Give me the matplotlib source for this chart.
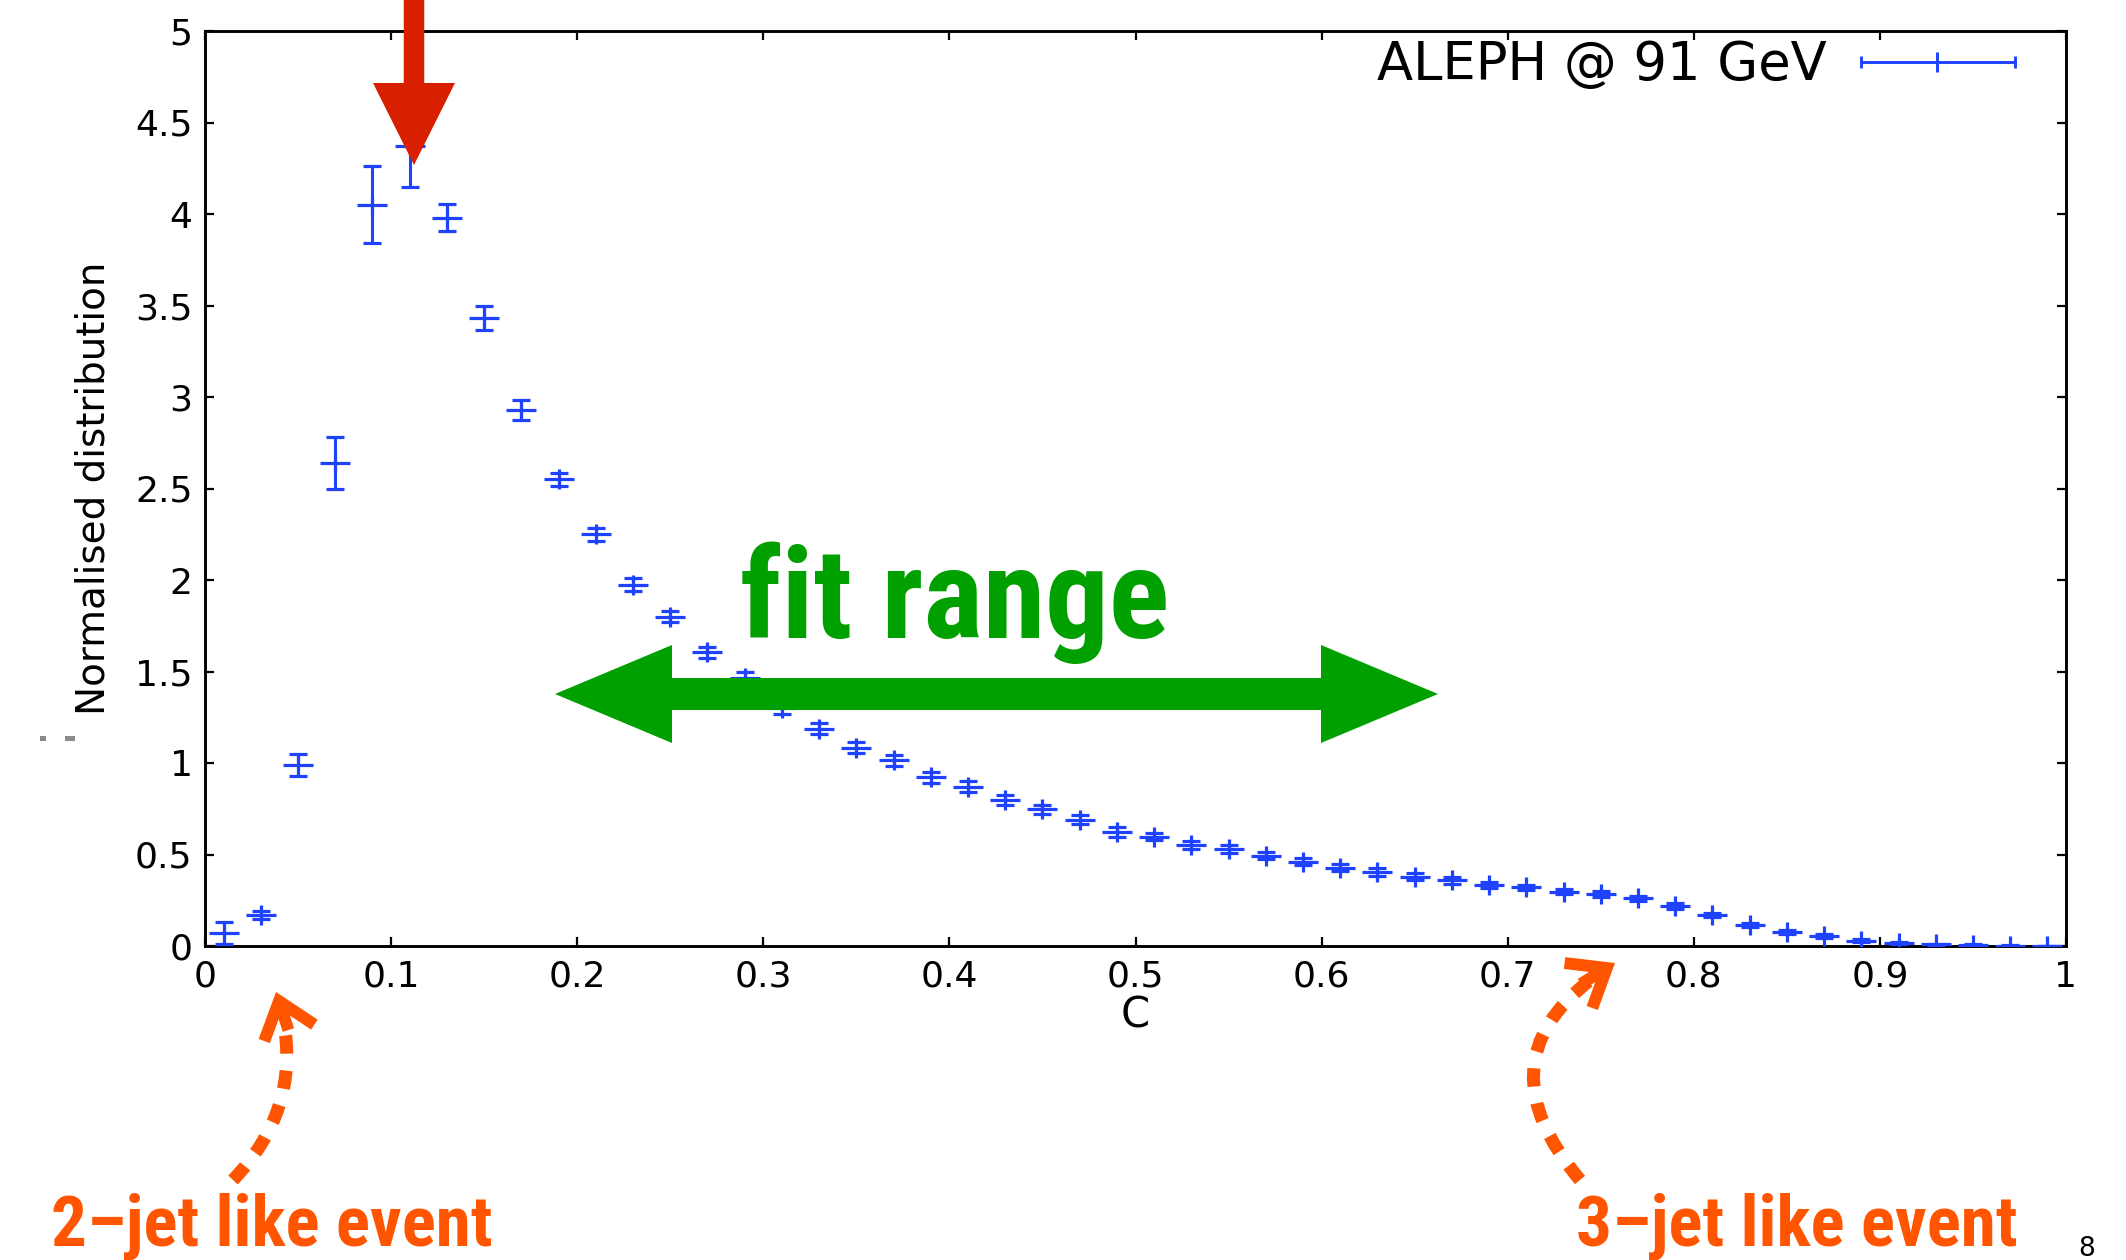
import numpy as np
import matplotlib
matplotlib.use("Agg")
import matplotlib.pyplot as plt
from matplotlib.path import Path
from matplotlib.patches import FancyArrow, FancyArrowPatch, Rectangle
from matplotlib.lines import Line2D

# ---------------- data ----------------
c_centres = [0.01, 0.03, 0.05, 0.07, 0.09, 0.11, 0.13, 0.15, 0.17, 0.19,
             0.21, 0.23, 0.25, 0.27, 0.29, 0.31, 0.33, 0.35, 0.37, 0.39,
             0.41, 0.43, 0.45, 0.47, 0.49, 0.51, 0.53, 0.55, 0.57, 0.59,
             0.61, 0.63, 0.65, 0.67, 0.69, 0.71, 0.73, 0.75, 0.77, 0.79,
             0.81, 0.83, 0.85, 0.87, 0.89, 0.91, 0.93, 0.95, 0.97, 0.99]
distribution = [0.07, 0.17, 0.99, 2.64, 4.05, 4.37, 3.98, 3.43, 2.93, 2.55,
                2.25, 1.975, 1.80, 1.605, 1.465, 1.30, 1.186, 1.084, 1.016, 0.923,
                0.869, 0.798, 0.748, 0.689, 0.623, 0.597, 0.552, 0.530, 0.494, 0.461,
                0.428, 0.404, 0.379, 0.358, 0.333, 0.321, 0.297, 0.284, 0.260, 0.218,
                0.169, 0.115, 0.078, 0.055, 0.029, 0.018, 0.009, 0.008, 0.002, 0.001]
uncertainty = [0.06, 0.02, 0.06, 0.14, 0.21, 0.22, 0.075, 0.065, 0.055, 0.035,
               0.035, 0.035, 0.03, 0.03, 0.03, 0.03, 0.03, 0.03, 0.03, 0.03,
               0.03, 0.025, 0.025, 0.025, 0.025, 0.02, 0.02, 0.02, 0.02, 0.02,
               0.02, 0.02, 0.02, 0.02, 0.015, 0.015, 0.015, 0.015, 0.015, 0.015,
               0.01, 0.01, 0.01, 0.01, 0.008, 0.005, 0.004, 0.003, 0.002, 0.001]
x_tick_labels = ["0", "0.1", "0.2", "0.3", "0.4", "0.5", "0.6", "0.7", "0.8", "0.9", "1"]
y_tick_labels = ["0", "0.5", "1", "1.5", "2", "2.5", "3", "3.5", "4", "4.5", "5"]
legend_label = "ALEPH @ 91 GeV"
x_label = "C"
y_label = "Normalised distribution"
fit_text = "fit range"
left_note = "2\u2013jet like event"
right_note = "3\u2013jet like event"
page_number = "8"

# ---------------- figure ----------------
W, H, DPI = 2126, 1260, 100
fig = plt.figure(figsize=(W / DPI, H / DPI), dpi=DPI, facecolor="white")
ax = fig.add_axes([205 / W, 1 - 946 / H, (2066 - 205) / W, (946 - 31) / H])
tr = fig.dpi_scale_trans

blue = "#1f42ff"
green = "#00a000"
orange = "#ff5500"
red = "#d82000"

plus = Path([(-1, 0), (1, 0), (0, -0.67), (0, 0.67)],
            [Path.MOVETO, Path.LINETO, Path.MOVETO, Path.LINETO])

ax.errorbar(c_centres, distribution, yerr=uncertainty, linestyle="none",
            marker=plus, ms=21, mfc="none", mec=blue, mew=2.3,
            ecolor=blue, elinewidth=2.2, capsize=6.5, capthick=2.2, zorder=3)

ax.set_xlim(0, 1)
ax.set_ylim(0, 5)
ax.set_xticks([float(s) for s in x_tick_labels])
ax.set_xticklabels(x_tick_labels)
ax.set_yticks([float(s) for s in y_tick_labels])
ax.set_yticklabels(y_tick_labels)
ax.tick_params(direction="in", length=6.5, width=1.6, top=True, right=True,
               labelsize=26, colors="black")
ax.tick_params(axis="x", pad=10)
ax.tick_params(axis="y", pad=9)
for s in ax.spines.values():
    s.set_linewidth(2.1)

ax.set_xlabel(x_label, fontsize=30)
ax.xaxis.set_label_coords(0.5, -(994 - 946) / 915)
ax.set_ylabel(y_label, fontsize=28)
ax.yaxis.set_label_coords((113 - 205) / 1861, 0.5)

# legend (drawn like the gnuplot key)
ax.text((1827 - 205) / 1861, 1 - (80 - 31) / 915, legend_label, transform=ax.transAxes,
        ha="right", va="baseline", fontsize=38, color="black")
ly = 1 - (62 - 31) / 915
lx0, lx1, lxc = (1861 - 205) / 1861, (2015 - 205) / 1861, (1937 - 205) / 1861
ax.add_line(Line2D([lx0, lx1], [ly, ly], transform=ax.transAxes, color=blue, lw=2.1))
ax.add_line(Line2D([lx0, lx1], [ly, ly], transform=ax.transAxes, linestyle="none",
                   marker="|", ms=9, mew=2.1, color=blue))
ax.add_line(Line2D([lxc], [ly], transform=ax.transAxes, linestyle="none",
                   marker="|", ms=15, mew=2.1, color=blue))

# ---------------- annotations ----------------
def px(x, y):
    return x / DPI, (H - y) / DPI

# red arrow pointing at the peak
rx, ry = px(414, -20)
fig.add_artist(FancyArrow(rx, ry, 0, -(165 + 20) / DPI, width=0.205, head_width=0.82,
                          head_length=0.82, length_includes_head=True, color=red,
                          lw=0, transform=tr, zorder=5))

# green double arrow
gy = (H - 694) / DPI
gc = (555 + 1438) / 2
for tip, start in ((1438, gc - 15), (555, gc + 15)):
    fig.add_artist(FancyArrow(start / DPI, gy, (tip - start) / DPI, 0, width=0.32,
                              head_width=0.98, head_length=1.17,
                              length_includes_head=True, color=green, lw=0,
                              transform=tr, zorder=5))

cond_family = ["Liberation Sans Narrow", "Roboto Condensed", "DejaVu Sans"]
fig.text(955 / W, 1 - 638 / H, fit_text, ha="center", va="baseline", fontsize=91,
         fontweight="bold", color=green, family=cond_family)

# orange dashed curved arrows
def curved(start, tip, rad):
    A = np.array(px(*start))
    B = np.array(px(*tip))
    fig.add_artist(FancyArrowPatch(tuple(A), tuple(B), connectionstyle=f"arc3,rad={rad}",
                                   arrowstyle="-", linestyle=(0, (1.4, 1.3)), lw=9.4,
                                   color=orange, shrinkA=0, shrinkB=22, capstyle="butt",
                                   transform=tr, zorder=5))
    mid = (A + B) / 2
    d = B - A
    ctrl = mid + rad * np.array([d[1], -d[0]])
    t = (B - ctrl) / np.hypot(*(B - ctrl))
    hs = B - t * 0.40
    fig.add_artist(FancyArrowPatch(tuple(hs), tuple(B),
                                   arrowstyle="->,head_length=24,head_width=19",
                                   lw=8.6, color=orange, shrinkA=0, shrinkB=0,
                                   joinstyle="miter", capstyle="butt",
                                   transform=tr, zorder=5))

curved((233, 1180), (276, 992), 0.30)
curved((1580, 1180), (1615, 963), -0.58)

fig.text(272 / W, 1 - 1245 / H, left_note, ha="center", va="baseline", fontsize=51,
         fontweight="bold", color=orange, family=cond_family)
fig.text(1797 / W, 1 - 1245 / H, right_note, ha="center", va="baseline", fontsize=51,
         fontweight="bold", color=orange, family=cond_family)

# small grey marks at left and page number
for x0, x1 in ((40, 46), (65, 75)):
    fig.add_artist(Rectangle(px(x0, 741), (x1 - x0) / DPI, 5 / DPI, color="#8a8a8a",
                             lw=0, transform=tr))
fig.text(2078 / W, 1 - 1236 / H, page_number, ha="left", va="top", fontsize=19,
         color="black")

fig.savefig("out.png", dpi=DPI, facecolor="white")
